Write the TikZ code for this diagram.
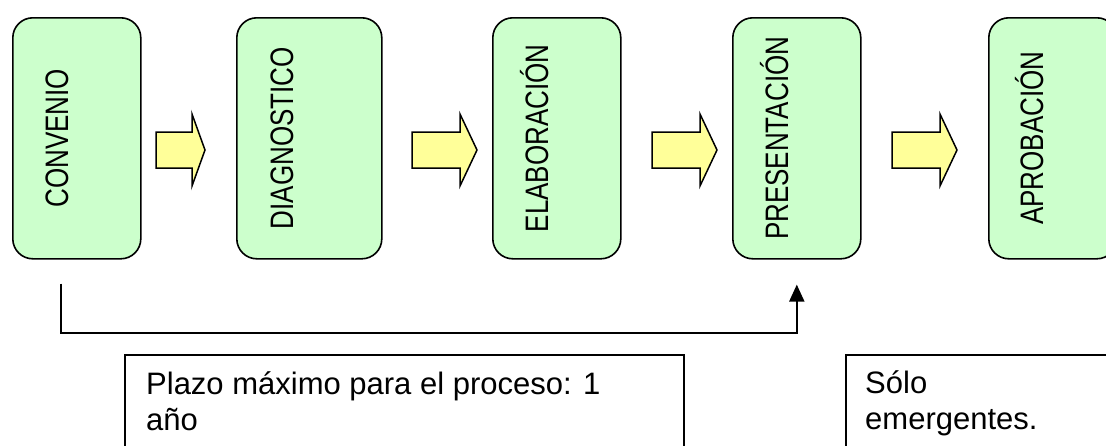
\documentclass[tikz,border=0pt]{standalone}
\usepackage{fontspec}
\setmainfont{Liberation Sans}
\newfontfamily\boxfont{Liberation Sans}[FakeStretch=0.8]
\usetikzlibrary{arrows.meta}
\definecolor{boxgreen}{HTML}{CCFFCC}
\definecolor{arrowyellow}{HTML}{FFFF99}
\newcommand\blockarrow[3]{\draw[blockarrow] (#1,132) -- (#2,132) -- (#2,114) -- (#3,150) -- (#2,186) -- (#2,168) -- (#1,168) -- cycle;}
\begin{document}
\begin{tikzpicture}[x=1pt,y=-1pt,
  stage/.style={draw=black, line width=1.6pt, fill=boxgreen, rounded corners=20pt,
    minimum width=128pt, minimum height=241pt, inner sep=0pt, anchor=north west},
  stagetext/.style={rotate=90, anchor=base, inner sep=0pt,
    font=\boxfont\fontsize{32.5}{38}\selectfont},
  blockarrow/.style={draw=black, line width=1.5pt, fill=arrowyellow, line join=miter},
  conn/.style={line width=2pt, -{Triangle[width=15pt,length=17pt]}},
  notebox/.style={draw=black, line width=1.5pt, fill=white, anchor=north west,
    inner sep=0pt, minimum height=130pt},
  notetext/.style={anchor=north west, align=left, inner sep=0pt,
    font=\fontsize{31}{36}\selectfont}]
\useasboundingbox (0,0) rectangle (1106,445);
\clip (0,0) rectangle (1106,445);

% stages
\node[stage] (b1) at (12,17) {};
\node[stage, minimum width=145pt] (b2) at (236,17) {};
\node[stage] (b3) at (492,17) {};
\node[stage] (b4) at (732,17) {};
\node[stage] (b5) at (988,17) {};

\node[stagetext] (t1) at ([xshift=56pt]b1.west) {CONVENIO};
\node[stagetext] (t2) at ([xshift=57pt]b2.west) {DIAGNOSTICO};
\node[stagetext] (t3) at ([xshift=56pt]b3.west) {ELABORACIÓN};
\node[stagetext] (t4) at ([xshift=56pt]b4.west) {PRESENTACIÓN};
\node[stagetext] (t5) at ([xshift=55pt]b5.west) {APROBACIÓN};

% block arrows
\blockarrow{156}{192}{205}
\blockarrow{412}{460}{477}
\blockarrow{652}{700}{717}
\blockarrow{892}{940}{957}

% connector
\coordinate (cs) at ([xshift=-16pt,yshift=-24pt]b1.south);
\coordinate (ce) at ([yshift=-25pt]b4.south);
\draw[conn] (cs) -- ++(0,49) -| (ce);

% notes
\node[notebox, minimum width=559pt] (n1) at (124,354) {};
\node[notebox, minimum width=300pt] (n2) at (845,354) {};
\node[notetext] (p1) at (146,364) {\rule{0pt}{30pt}Plazo máximo para el proceso: 1\\año};
\node[notetext] (p2) at (865,363) {\rule{0pt}{30pt}Sólo\\emergentes.};
\end{tikzpicture}
\end{document}
